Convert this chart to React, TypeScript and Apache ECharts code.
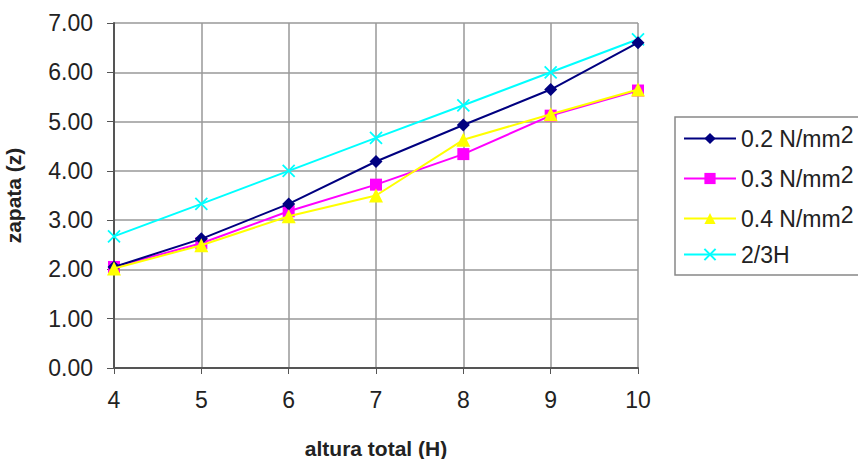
import React, { useEffect, useRef } from "react";
import * as echarts from "echarts";

const heights = [4, 5, 6, 7, 8, 9, 10];
const p02 = [2.05, 2.62, 3.33, 4.19, 4.93, 5.65, 6.6];
const p03 = [2.05, 2.53, 3.18, 3.72, 4.34, 5.12, 5.63];
const p04 = [2.02, 2.49, 3.08, 3.5, 4.63, 5.15, 5.65];
const twoThirdsH = [2.67, 3.33, 4.0, 4.67, 5.33, 6.0, 6.67];
const yTicks = [0, 1, 2, 3, 4, 5, 6, 7];

const FONT = "Liberation Sans, Arial, sans-serif";

export default function App() {
  const ref = useRef<HTMLDivElement>(null);
  useEffect(() => {
    if (!ref.current) return;
    const chart = echarts.init(ref.current, undefined, { renderer: "svg" });
    const mk = (vals: number[]) => heights.map((h, i) => [h, vals[i]]);
    const legendRich = {
      sup: { fontSize: 23, fontFamily: FONT, color: "#222", padding: [0, 0, 8, 0] },
    };
    chart.setOption({
      animation: false,
      backgroundColor: "#ffffff",
      textStyle: { fontFamily: FONT },
      grid: {
        left: 114,
        right: 220,
        top: 23,
        bottom: 91,
        containLabel: false,
        outerBoundsMode: "none",
      },
      legend: {
        orient: "vertical",
        left: 675,
        top: 117,
        width: 400,
        borderColor: "#888",
        borderWidth: 1.5,
        padding: [6, 40, 9, 8],
        itemWidth: 52,
        itemHeight: 14,
        itemGap: 13,
        textStyle: { fontSize: 23, color: "#222", fontFamily: FONT, rich: legendRich },
        formatter: (name: string) =>
          name.endsWith("mm2") ? name.slice(0, -1) + "{sup|2}" : name,
        data: ["0.2 N/mm2", "0.3 N/mm2", "0.4 N/mm2", "2/3H"],
      },
      xAxis: {
        type: "value",
        min: 4,
        max: 10,
        interval: 1,
        name: "altura total (H)",
        nameLocation: "middle",
        nameGap: 70,
        nameTextStyle: { fontSize: 21, fontWeight: "bold", color: "#222", fontFamily: FONT },
        axisLine: { lineStyle: { color: "#555", width: 2 } },
        axisTick: { show: true, length: 6, lineStyle: { color: "#555" } },
        axisLabel: { fontSize: 23, color: "#222", margin: 20, fontFamily: FONT },
        splitLine: { show: true, lineStyle: { color: "#999", width: 1.5 } },
      },
      yAxis: {
        type: "value",
        min: yTicks[0],
        max: yTicks[yTicks.length - 1],
        interval: 1,
        name: "zapata (z)",
        nameLocation: "middle",
        nameGap: 90,
        nameRotate: 90,
        nameTextStyle: { fontSize: 21, fontWeight: "bold", color: "#222", fontFamily: FONT },
        axisLine: { show: true, lineStyle: { color: "#555", width: 2 } },
        axisTick: { show: true, length: 7, lineStyle: { color: "#555" } },
        axisLabel: {
          fontSize: 23,
          color: "#222",
          margin: 21,
          fontFamily: FONT,
          formatter: (v: number) => v.toFixed(2),
        },
        splitLine: { show: true, lineStyle: { color: "#999", width: 1.5 } },
      },
      series: [
        {
          name: "0.2 N/mm2",
          type: "line",
          data: mk(p02),
          symbol: "diamond",
          symbolSize: 13,
          lineStyle: { color: "#000080", width: 2 },
          itemStyle: { color: "#000080" },
          z: 4,
        },
        {
          name: "0.3 N/mm2",
          type: "line",
          data: mk(p03),
          symbol: "rect",
          symbolSize: 12,
          lineStyle: { color: "#ff00ff", width: 2 },
          itemStyle: { color: "#ff00ff" },
          z: 3,
        },
        {
          name: "0.4 N/mm2",
          type: "line",
          data: mk(p04),
          symbol: "triangle",
          symbolSize: 14,
          lineStyle: { color: "#ffff00", width: 2 },
          itemStyle: { color: "#ffff00" },
          z: 5,
        },
        {
          name: "2/3H",
          type: "line",
          data: mk(twoThirdsH),
          symbol: "path://M0,0L10,10M10,0L0,10",
          symbolSize: 12,
          lineStyle: { color: "#00ffff", width: 2 },
          itemStyle: { color: "#00ffff", borderColor: "#00ffff", borderWidth: 1.8 },
          z: 2,
        },
      ],
    });
    return () => chart.dispose();
  }, []);
  return (
    <div
      ref={ref}
      style={{ position: "fixed", left: 0, top: 0, width: 858, height: 459, background: "#fff" }}
    />
  );
}
